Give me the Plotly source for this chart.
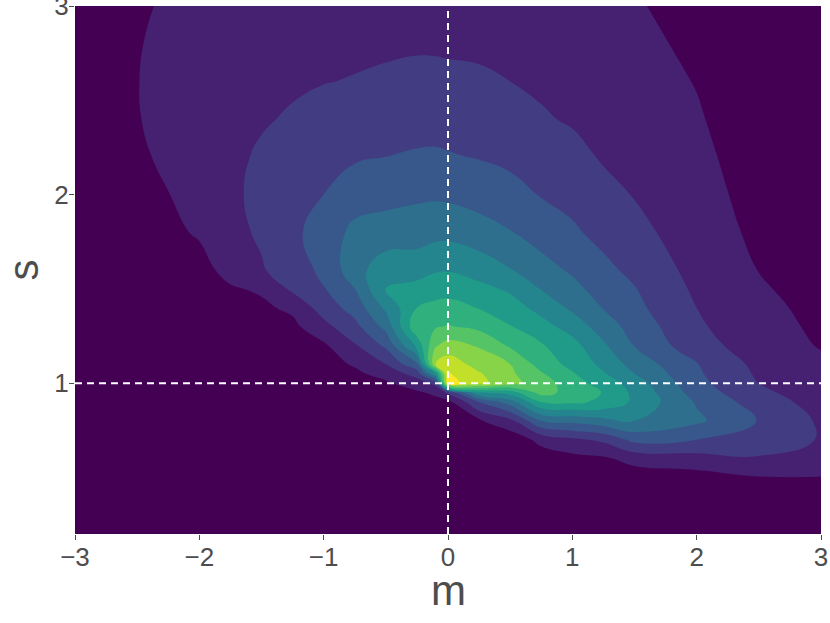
import plotly.graph_objects as go

# grid of the density surface (in contour-level units)
m_values = [-3, -2.5, -2.25, -2, -1.75, -1.5, -1.25, -1, -0.75, -0.5, -0.25, -0.1, 0, 0.25, 0.5, 0.75, 1.0, 1.25, 1.5, 2.0, 2.5, 3.0]
s_values = [0.2, 0.4, 0.5, 0.6, 0.7, 0.8, 0.9, 0.95, 1.0, 1.05, 1.1, 1.2, 1.3, 1.4, 1.5, 1.6, 1.8, 2.0, 2.2, 2.4, 2.6, 2.8, 3.0]

# one list per m column, values follow s_values
density = [
    [0.0, 0.0, 0.0, 0.01, 0.02, 0.03, 0.05, 0.06, 0.07, 0.08, 0.1, 0.13, 0.17, 0.22, 0.27, 0.32, 0.42, 0.5, 0.56, 0.6, 0.6, 0.58, 0.55],
    [0.0, 0.01, 0.01, 0.02, 0.03, 0.05, 0.08, 0.1, 0.12, 0.14, 0.16, 0.22, 0.28, 0.35, 0.4, 0.45, 0.58, 0.7, 0.85, 0.96, 0.98, 0.95, 0.86],
    [0.0, 0.02, 0.03, 0.05, 0.08, 0.12, 0.18, 0.21, 0.24, 0.27, 0.25, 0.3, 0.36, 0.42, 0.48, 0.55, 0.8, 0.98, 1.17, 1.25, 1.25, 1.2, 1.12],
    [0.0, 0.01, 0.02, 0.03, 0.05, 0.08, 0.12, 0.14, 0.17, 0.2, 0.23, 0.3, 0.38, 0.47, 0.58, 0.68, 1.1, 1.38, 1.5, 1.55, 1.52, 1.45, 1.35],
    [0.0, 0.02, 0.03, 0.06, 0.1, 0.15, 0.22, 0.26, 0.3, 0.33, 0.37, 0.45, 0.56, 0.7, 0.9, 1.3, 1.7, 1.85, 1.83, 1.78, 1.7, 1.6, 1.48],
    [0.0, 0.01, 0.02, 0.04, 0.07, 0.11, 0.17, 0.2, 0.24, 0.28, 0.33, 0.44, 0.6, 0.82, 1.13, 1.9, 2.15, 2.2, 2.1, 1.93, 1.8, 1.65, 1.5],
    [0.0, 0.01, 0.03, 0.06, 0.1, 0.16, 0.24, 0.29, 0.34, 0.4, 0.47, 0.62, 0.76, 1.2, 2.2, 2.55, 2.85, 2.8, 2.55, 2.08, 1.9, 1.72, 1.55],
    [0.0, 0.02, 0.04, 0.08, 0.13, 0.21, 0.32, 0.38, 0.45, 0.53, 0.62, 0.85, 1.7, 2.45, 2.95, 3.2, 3.3, 3.0, 2.7, 2.35, 1.97, 1.75, 1.58],
    [0.0, 0.02, 0.04, 0.08, 0.15, 0.25, 0.4, 0.5, 0.62, 0.8, 1.1, 1.9, 2.7, 3.4, 4.0, 4.6, 4.3, 3.45, 2.9, 2.45, 2.05, 1.8, 1.6],
    [0.0, 0.02, 0.04, 0.08, 0.15, 0.27, 0.48, 0.65, 0.85, 1.35, 2.0, 3.2, 4.3, 5.2, 6.1, 5.6, 4.4, 3.7, 3.0, 2.55, 2.15, 1.85, 1.62],
    [0.0, 0.02, 0.04, 0.08, 0.15, 0.28, 0.55, 0.85, 1.5, 2.4, 3.8, 6.3, 7.8, 7.0, 6.4, 5.5, 4.6, 3.8, 3.1, 2.65, 2.22, 1.9, 1.65],
    [0.0, 0.02, 0.04, 0.09, 0.17, 0.32, 0.7, 1.2, 2.3, 6.0, 10.0, 8.9, 7.9, 7.25, 6.6, 5.9, 4.7, 3.85, 3.12, 2.67, 2.2, 1.9, 1.67],
    [0.0, 0.02, 0.05, 0.1, 0.2, 0.38, 0.7, 2.2, 11.4, 11.1, 10.6, 9.35, 8.07, 7.35, 6.64, 5.93, 4.71, 3.8, 3.07, 2.63, 2.22, 1.85, 1.55],
    [0.0, 0.02, 0.05, 0.12, 0.3, 0.85, 3.0, 6.0, 10.3, 10.1, 9.6, 8.9, 7.75, 6.95, 6.25, 5.6, 4.4, 3.6, 2.95, 2.55, 2.15, 1.82, 1.55],
    [0.0, 0.03, 0.08, 0.2, 0.35, 1.7, 4.5, 6.5, 9.3, 9.2, 9.0, 7.85, 7.05, 6.4, 5.85, 5.05, 4.05, 3.3, 2.8, 2.4, 2.0, 1.72, 1.48],
    [0.0, 0.05, 0.15, 0.45, 1.3, 4.0, 7.0, 8.4, 8.5, 8.1, 7.6, 7.1, 6.35, 5.7, 4.95, 4.4, 3.55, 2.95, 2.55, 2.1, 1.85, 1.6, 1.4],
    [0.0, 0.08, 0.22, 0.7, 1.8, 4.3, 7.2, 7.6, 7.4, 7.1, 6.7, 6.35, 5.6, 4.8, 4.3, 3.85, 3.15, 2.7, 2.3, 1.9, 1.65, 1.45, 1.3],
    [0.01, 0.1, 0.3, 0.85, 2.2, 4.7, 6.8, 6.95, 6.6, 6.1, 5.75, 5.15, 4.5, 3.95, 3.55, 3.25, 2.7, 2.3, 1.9, 1.65, 1.45, 1.3, 1.15],
    [0.02, 0.12, 0.45, 1.35, 3.3, 5.0, 5.8, 5.75, 5.5, 5.0, 4.6, 3.95, 3.6, 3.25, 3.05, 2.75, 2.3, 1.95, 1.65, 1.45, 1.3, 1.15, 1.05],
    [0.02, 0.15, 0.6, 1.6, 3.0, 4.2, 3.9, 3.55, 3.3, 3.15, 3.05, 2.35, 2.13, 2.0, 1.82, 1.68, 1.45, 1.3, 1.18, 1.07, 0.97, 0.88, 0.8],
    [0.03, 0.2, 0.95, 1.9, 2.6, 2.95, 2.5, 2.2, 2.0, 1.85, 1.72, 1.55, 1.42, 1.3, 1.12, 0.98, 0.82, 0.72, 0.64, 0.57, 0.5, 0.45, 0.4],
    [0.05, 0.3, 0.98, 1.6, 1.93, 1.85, 1.6, 1.5, 1.4, 1.3, 1.2, 0.93, 0.8, 0.68, 0.58, 0.5, 0.4, 0.34, 0.29, 0.25, 0.22, 0.2, 0.18],
]

true_m = 0
true_s = 1

x_ticks = [-3, -2, -1, 0, 1, 2, 3]
x_labels = ["\u22123", "\u22122", "\u22121", "0", "1", "2", "3"]
y_ticks = [1, 2, 3]

fig = go.Figure()
fig.add_trace(go.Contour(
    x=m_values,
    y=s_values,
    z=density,
    transpose=True,
    colorscale="Viridis",
    contours=dict(start=1, end=11, size=1, coloring="fill"),
    line=dict(width=0, smoothing=1.3),
    showscale=False,
))

# reference lines at the true parameters
fig.add_vline(x=true_m, line=dict(color="white", width=2, dash="7px,5px"))
fig.add_hline(y=true_s, line=dict(color="white", width=2, dash="7px,5px"))

font_family = "Liberation Sans Narrow, Arial Narrow, Nimbus Sans Narrow, Liberation Sans, Arial, sans-serif"
axis_font = dict(family=font_family, size=26, color="#4d4d4d")
title_font = dict(family=font_family, size=42, color="#4d4d4d")

fig.update_layout(
    width=830,
    height=623,
    margin=dict(l=75, r=9, t=6, b=89),
    paper_bgcolor="white",
    plot_bgcolor="white",
    showlegend=False,
)
# x title placed as an annotation so it sits closer to the tick labels
fig.add_annotation(
    text="m", x=0.5, y=-0.107, xref="paper", yref="paper",
    xanchor="center", yanchor="middle", showarrow=False, font=title_font,
)
fig.update_xaxes(
    range=[-3, 3],
    tickvals=x_ticks,
    ticktext=x_labels,
    ticks="outside",
    ticklen=5,
    tickcolor="#4d4d4d",
    tickfont=axis_font,
    ticklabeloverflow="allow",
    ticklabelstandoff=-5,
    automargin=False,
    showgrid=False,
    zeroline=False,
)
fig.update_yaxes(
    range=[0.2, 3],
    tickvals=y_ticks,
    ticks="outside",
    ticklen=5,
    tickcolor="#4d4d4d",
    tickfont=axis_font,
    ticklabeloverflow="allow",
    ticklabelstandoff=-5,
    automargin=False,
    title=dict(text="s", font=title_font, standoff=3),
    showgrid=False,
    zeroline=False,
)

fig.write_html(
    "out.html",
    config={"displayModeBar": False},
    post_script="document.body.style.margin='0';",
)
